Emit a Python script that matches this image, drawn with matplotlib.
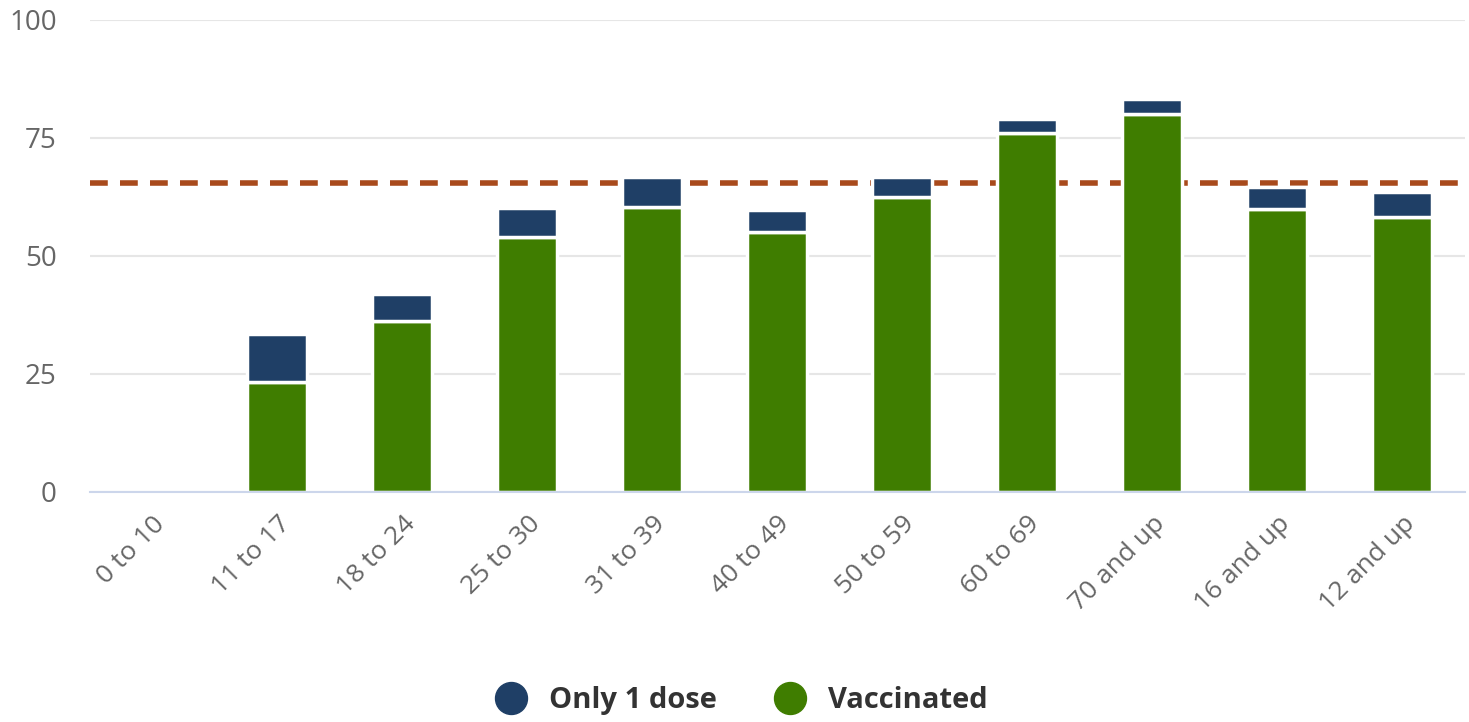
import matplotlib.pyplot as plt
import numpy as np
from matplotlib.lines import Line2D

plt.rcParams['font.family'] = ['Open Sans', 'DejaVu Sans']

groups = ["0 to 10", "11 to 17", "18 to 24", "25 to 30", "31 to 39", "40 to 49",
          "50 to 59", "60 to 69", "70 and up", "16 and up", "12 and up"]
vaccinated = [0, 23.3, 36.2, 54.0, 60.4, 55.1, 62.5, 76.1, 80.1, 60.0, 58.3]
one_dose = [0, 10.2, 5.7, 6.2, 6.3, 4.6, 4.2, 2.9, 3.2, 4.6, 5.3]
target = 65.5

blue = "#1f3f66"
green = "#3f7d00"

fig = plt.figure(figsize=(14.69, 7.22), dpi=100)
ax = fig.add_axes([0.0613, 0.3186, 0.9357, 0.6537])

x = np.arange(len(groups))
ax.axhline(target, color="#a84a1c", lw=4, ls=(0, (3.2, 2.2)), zorder=1)
ax.bar(x, vaccinated, width=0.48, color=green, edgecolor="white", lw=2.5, zorder=2)
ax.bar(x, one_dose, width=0.48, bottom=vaccinated, color=blue, edgecolor="white",
       lw=2.5, zorder=2)

ax.set_xlim(-0.5, len(groups) - 0.5)
ax.set_ylim(0, 100)
ax.set_yticks([0, 25, 50, 75, 100])
ax.yaxis.grid(True, color="#e6e6e6", lw=1.5, zorder=0)
ax.set_axisbelow(True)
for s in ["top", "right", "left"]:
    ax.spines[s].set_visible(False)
ax.spines["bottom"].set_color("#ccd6eb")
ax.spines["bottom"].set_linewidth(1.5)
ax.spines["bottom"].set_zorder(3)

ax.set_xticks(x)
ax.set_xticklabels(groups, rotation=45, ha="right", rotation_mode="anchor")
ax.tick_params(axis="x", length=0, pad=14, labelsize=19, labelcolor="#666666")
ax.tick_params(axis="y", length=0, pad=24, labelsize=20, labelcolor="#666666")

handles = [
    Line2D([], [], marker="o", ls="", markersize=23, color=blue, label="Only 1 dose"),
    Line2D([], [], marker="o", ls="", markersize=23, color=green, label="Vaccinated"),
]
fig.legend(handles=handles, loc="center", bbox_to_anchor=(0.5, 0.03), ncol=2,
           frameon=False, prop={"weight": "bold", "size": 21}, labelcolor="#333333",
           handletextpad=0.3, columnspacing=1.5)

fig.savefig("out.png", dpi=100)
